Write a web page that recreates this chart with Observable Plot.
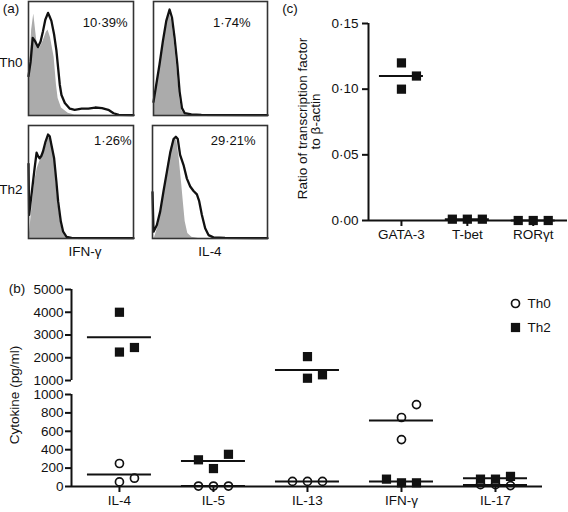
<!DOCTYPE html>
<html><head><meta charset="utf-8">
<script src="https://cdn.jsdelivr.net/npm/d3@7"></script>
<script src="https://cdn.jsdelivr.net/npm/@observablehq/plot@0.6"></script>
<style>
body{margin:0;background:#fff;}
#root{position:relative;width:568px;height:512px;overflow:hidden;font-family:"Liberation Sans",Arial,Helvetica,sans-serif;color:#111;background:#fff;}
.lab{position:absolute;white-space:nowrap;font-size:13.5px;line-height:14px;text-align:center;}
</style></head><body><div id="root"></div>
<script>
// ---------------- DATA ----------------
// (a) flow cytometry histograms: [fluorescence channel (0-100), % of max]
const histTh0IfngControl = [[0,0],[1,40],[3,75],[5,89],[8.3,62],[10.6,59],[13.8,65],[17,73],[18.6,75],[21,68],[24.4,51],[26.6,27],[28.2,15],[31.4,6.5],[37.8,2],[44,0.5],[100,0]];
const histTh0IfngStain = [[0,34.5],[2,47],[4,68],[6.4,65],[9,60],[11.5,65],[13.8,74],[16,84],[18.6,90],[20,87],[21.8,83],[24.4,71],[26.6,57],[28.2,42],[29.8,27],[31.4,18],[34.6,11],[39.4,6],[44,5],[50.6,6],[57,6],[63.5,7],[70,6.5],[76,5],[81,2],[86,0.5],[100,0.3]];
const histTh0Il4Control = [[0,5],[2.4,22],[5.3,40],[8.2,60],[11.2,79],[14.1,90],[16.2,82],[18.5,62],[20.9,38],[22.9,15],[25,4],[27.4,1],[33,0],[100,0]];
const histTh0Il4Stain = [[0,12],[2.4,27],[5.3,45],[8.2,65],[11.2,83],[14.1,93],[16.2,86],[18.5,68],[20.9,45],[22.9,21],[25,6.5],[27.4,2],[33.2,1],[42,0.5],[100,0.3]];
const histTh2IfngControl = [[0,0],[1,5],[3.2,27],[5.8,50],[8.3,62],[10.6,68],[13.8,74],[16,80],[18.6,88],[20.2,89],[21.8,85],[24.4,71],[26.6,47],[28.2,30],[30.8,13],[33,4.5],[36.2,0.5],[100,0]];
const histTh2IfngStain = [[0,66],[0.6,21],[3.2,41.5],[5.8,62],[7.7,76],[9,73],[10.6,71],[12.2,73],[13.8,77],[16,85],[18.6,92],[20.2,90.5],[21.8,83],[24.4,71],[26.6,50],[28.2,33],[30.8,15],[33,6],[36.2,1.5],[41,0.5],[100,0.3]];
const histTh2Il4Control = [[0,0],[1.7,0.5],[5.2,12],[8.1,30],[11,50],[13.9,68],[16.8,83],[19.1,89],[21.2,86],[23.2,71],[25.5,47],[27,30],[28.4,15],[30.7,4.5],[34.2,1],[40,0],[100,0]];
const histTh2Il4Stain = [[0,41],[0.9,6],[3.8,12],[6.7,24],[9.6,42],[12.5,59],[15.4,76],[18.3,88],[20.3,90],[22,88],[24,74],[27,65],[29.9,53],[32.8,46],[35.7,42],[38.6,39],[40.6,33],[42.9,21],[45.8,9],[48.7,3],[53,1],[63,0.5],[100,0.3]];
const percentLabels = ["10·39%", "1·74%", "1·26%", "29·21%"];
const rowLabels = ["Th0", "Th2"];
const stainLabels = ["IFN-γ", "IL-4"];

// (b) cytokines (pg/ml), three replicates each
const cytokines = ["IL-4", "IL-5", "IL-13", "IFN-γ", "IL-17"];
const seriesNames = ["Th0", "Th2"];
const th0Values = [[250, 50, 90], [5, 5, 5], [55, 55, 55], [750, 510, 890], [20, 10, 20]];
const th2Values = [[4000, 2250, 2450], [195, 350, 290], [2050, 1100, 1250], [40, 40, 80], [80, 110, 80]];
const upperTicks = [1000, 2000, 3000, 4000, 5000];
const lowerTicks = [0, 200, 400, 600, 800, 1000];

// (c) transcription factor / beta-actin
const tfNames = ["GATA-3", "T-bet", "RORγt"];
const tfRatio = [[0.12, 0.10, 0.11], [0.001, 0.001, 0.001], [0, 0, 0]];
const tfTicks = [0, 0.05, 0.10, 0.15];
const tfTitle = ["Ratio of transcription factor", "to β-actin"];

// ---------------- LAYOUT HELPERS ----------------
const root = document.getElementById("root");
const FONT = '"Liberation Sans", Arial, Helvetica, sans-serif';
const baseStyle = {fontSize: "13.5px", fontFamily: FONT, background: "transparent", color: "#111", overflow: "visible"};
function place(svg, left, top) {
  svg.style.position = "absolute";
  svg.style.left = left + "px";
  svg.style.top = top + "px";
  svg.style.maxWidth = "none";
  root.appendChild(svg);
}
function label(text, cx, cy, rotate = 0, size = 13.5) {
  const d = document.createElement("div");
  d.className = "lab";
  d.textContent = text;
  d.style.fontSize = size + "px";
  d.style.left = cx + "px";
  d.style.top = cy + "px";
  d.style.transform = "translate(-50%,-50%) rotate(" + rotate + "deg)";
  root.appendChild(d);
}
function swarm(values, toPx, threshold = 16) {
  const placed = [];
  return values.map(v => {
    const py = toPx(v);
    for (const s of [0, 1, -1, 2, -2]) {
      if (!placed.some(p => p.s === s && Math.abs(p.py - py) < threshold)) { placed.push({s, py}); return s; }
    }
    return 0;
  });
}

// ---------------- PANEL (a) ----------------
const boxes = [
  {x0: 28, x1: 133, y0: 1, y1: 115, ctrl: histTh0IfngControl, stain: histTh0IfngStain, dx: -6, dy: 21},
  {x0: 153, x1: 267, y0: 1, y1: 115, ctrl: histTh0Il4Control, stain: histTh0Il4Stain, dx: -17, dy: 21},
  {x0: 28, x1: 133, y0: 125, y1: 238, ctrl: histTh2IfngControl, stain: histTh2IfngStain, dx: -2, dy: 15},
  {x0: 152, x1: 267, y0: 125, y1: 238, ctrl: histTh2Il4Control, stain: histTh2Il4Stain, dx: -12, dy: 15}
];
boxes.forEach((b, k) => {
  const m = 2;
  const svg = Plot.plot({
    width: b.x1 - b.x0 + 2 * m, height: b.y1 - b.y0 + 2 * m,
    marginLeft: m, marginRight: m, marginTop: m, marginBottom: m,
    x: {domain: [0, 100], axis: null}, y: {domain: [0, 100], axis: null},
    style: baseStyle,
    marks: [
      Plot.areaY(b.ctrl, {x: d => d[0], y: d => d[1], fill: "#ababab"}),
      Plot.lineY(b.stain, {x: d => d[0], y: d => d[1], stroke: "#111", strokeWidth: 2.3, strokeLinejoin: "round"}),
      Plot.frame({stroke: "#333", strokeWidth: 1.6}),
      Plot.text([percentLabels[k]], {frameAnchor: "top-right", dx: b.dx, dy: b.dy, textAnchor: "end", lineAnchor: "middle", fontSize: 13, text: d => d})
    ]
  });
  place(svg, b.x0 - m, b.y0 - m);
});
label("(a)", 11, 9);
label(rowLabels[0], 11, 63);
label(rowLabels[1], 11, 190);
label(stainLabels[0], 85, 252);
label(stainLabels[1], 210, 252);

// ---------------- PANEL (c) ----------------
{
  const W = 288, H = 250, mL = 88, mR = 1, mT = 23, mB = 30;
  const xDom = [-0.5, 2.52];
  const yPx = d3.scaleLinear([0, 0.15], [H - mB, mT]);
  const xPerPx = (xDom[1] - xDom[0]) / (W - mL - mR);
  const slot = 15 * xPerPx, half = 22 * xPerPx;
  const recs = [];
  tfRatio.forEach((vals, i) => {
    const s = swarm(vals, yPx);
    vals.forEach((v, j) => recs.push({i, v, s: s[j]}));
  });
  const means = tfRatio.map((vals, i) => ({i, m: d3.mean(vals)}));
  const svg = Plot.plot({
    width: W, height: H, marginLeft: mL, marginRight: mR, marginTop: mT, marginBottom: mB,
    x: {domain: xDom}, y: {domain: [0, 0.15]},
    style: baseStyle,
    marks: [
      Plot.axisY({ticks: tfTicks, tickFormat: d => d.toFixed(2).replace(".", "·"), tickSize: 6, tickPadding: 4, strokeWidth: 2, label: null}),
      Plot.axisX({ticks: [0, 1, 2], tickFormat: i => tfNames[i], tickSize: 6, tickPadding: 3, strokeWidth: 2, label: null}),
      Plot.ruleX([xDom[0]], {y1: 0, y2: 0.15, strokeWidth: 2}),
      Plot.ruleY([0], {x1: xDom[0], x2: xDom[1], strokeWidth: 2}),
      Plot.ruleY(means, {y: "m", x1: d => d.i - half, x2: d => d.i + half, strokeWidth: 2}),
      Plot.dot(recs, {x: d => d.i + d.s * slot, y: "v", symbol: "square", r: 5.2, fill: "#111"})
    ]
  });
  // rotated two-line axis title, drawn as SVG text inside the panel's svg
  const midY = (mT + H - mB) / 2;
  const g = d3.select(svg).append("g")
    .attr("font-family", FONT).attr("font-size", 13.5).attr("fill", "#111").attr("text-anchor", "middle");
  tfTitle.forEach((t, k) => {
    g.append("text")
      .attr("transform", `translate(${22 + 13 * k},${midY - 3 + 3 * k}) rotate(-90)`)
      .attr("dy", "0.35em")
      .text(t);
  });
  place(svg, 280, 0);
  label("(c)", 290, 9);
}

// ---------------- PANEL (b) ----------------
{
  const W = 568, mL = 71, mR = 26;
  const xDom = [-0.51, 4.5];
  const xPerPx = (xDom[1] - xDom[0]) / (W - mL - mR);
  const slot = 15 * xPerPx, half = 32 * xPerPx;
  const BREAK = 1000;
  const up = {top: 270, H: 112, mT: 19, mB: 2};
  const lo = {top: 385, H: 131, mT: 9, mB: 30};
  const upY = d3.scaleLinear([1000, 5000], [up.top + up.H - up.mB, up.top + up.mT]);
  const loY = d3.scaleLinear([0, 1000], [lo.top + lo.H - lo.mB, lo.top + lo.mT]);
  const toPx = v => v >= BREAK ? upY(v) : loY(v);
  const recs = [], means = [];
  [th0Values, th2Values].forEach((series, si) => {
    series.forEach((vals, i) => {
      const s = swarm(vals, toPx);
      vals.forEach((v, j) => recs.push({series: seriesNames[si], i, v, s: s[j]}));
      means.push({series: seriesNames[si], i, m: d3.mean(vals)});
    });
  });
  const xOf = d => d.i + d.s * slot;
  const dotMarks = (rs) => [
    Plot.dot(rs.filter(d => d.series === seriesNames[0]), {x: xOf, y: "v", r: 4, stroke: "#111", strokeWidth: 1.7, fill: "none"}),
    Plot.dot(rs.filter(d => d.series === seriesNames[1]), {x: xOf, y: "v", symbol: "square", r: 5.2, fill: "#111"})
  ];
  const meanMark = (ms) => Plot.ruleY(ms, {y: "m", x1: d => d.i - half, x2: d => d.i + half, strokeWidth: 2});

  const upper = Plot.plot({
    width: W, height: up.H, marginLeft: mL, marginRight: mR, marginTop: up.mT, marginBottom: up.mB,
    x: {domain: xDom, axis: null}, y: {domain: [1000, 5000]},
    style: baseStyle,
    marks: [
      Plot.axisY({ticks: upperTicks, tickFormat: d => String(d), tickSize: 6, tickPadding: 2, strokeWidth: 2, label: null}),
      Plot.ruleX([xDom[0]], {y1: 1000, y2: 5000, strokeWidth: 2}),
      meanMark(means.filter(d => d.m >= BREAK)),
      ...dotMarks(recs.filter(d => d.v >= BREAK)),
      // legend
      Plot.dot([seriesNames[0]], {frameAnchor: "top-right", dx: -27, dy: 14, r: 4, stroke: "#111", strokeWidth: 1.7, fill: "none"}),
      Plot.dot([seriesNames[1]], {frameAnchor: "top-right", dx: -27, dy: 38, symbol: "square", r: 5.2, fill: "#111"}),
      Plot.text([seriesNames[0]], {frameAnchor: "top-right", dx: -15, dy: 14, textAnchor: "start", lineAnchor: "middle", text: d => d}),
      Plot.text([seriesNames[1]], {frameAnchor: "top-right", dx: -15, dy: 38, textAnchor: "start", lineAnchor: "middle", text: d => d})
    ]
  });
  place(upper, 0, up.top);

  const lower = Plot.plot({
    width: W, height: lo.H, marginLeft: mL, marginRight: mR, marginTop: lo.mT, marginBottom: lo.mB,
    x: {domain: xDom}, y: {domain: [0, 1000]},
    style: baseStyle,
    marks: [
      Plot.axisY({ticks: lowerTicks, tickFormat: d => String(d), tickSize: 6, tickPadding: 2, strokeWidth: 2, label: null}),
      Plot.axisX({ticks: [0, 1, 2, 3, 4], tickFormat: i => cytokines[i], tickSize: 6, tickPadding: 3, strokeWidth: 2, label: null}),
      Plot.ruleX([xDom[0]], {y1: 0, y2: 1000, strokeWidth: 2}),
      Plot.ruleY([0], {x1: xDom[0], x2: xDom[1], strokeWidth: 2}),
      meanMark(means.filter(d => d.m < BREAK)),
      ...dotMarks(recs.filter(d => d.v < BREAK))
    ]
  });
  place(lower, 0, lo.top);
  label("(b)", 17, 289);
  label("Cytokine (pg/ml)", 15, 395, -90);
}
</script></body></html>
